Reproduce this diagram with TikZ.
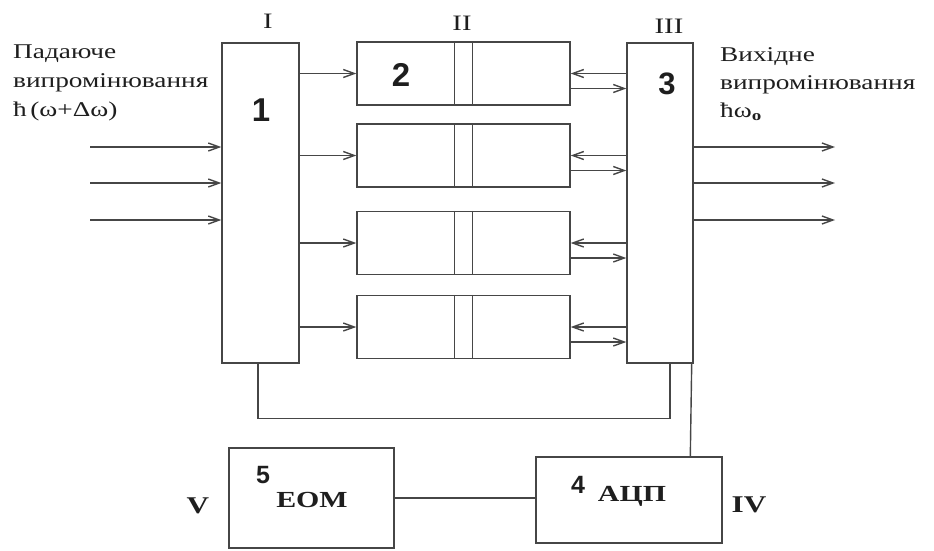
\documentclass[tikz,border=0pt]{standalone}
\usepackage{fontspec}
\setmainfont{Liberation Serif}[FakeStretch=1.3]
\newfontfamily\digitfont{Liberation Sans}
\usepackage{xcolor}
\usetikzlibrary{arrows.meta,calc,positioning}
\definecolor{inkgray}{RGB}{70,70,70}
\definecolor{textgray}{RGB}{30,30,30}

\tikzset{
  block/.style={draw=inkgray,line width=1.4pt,rectangle,inner sep=0pt},
  wire/.style={draw=inkgray,line width=1.4pt},
  arr/.style={wire,-{Straight Barb[length=11pt,width=8pt]}},
  bignum/.style={text=textgray,font=\digitfont\bfseries\fontsize{33}{33}\selectfont},
  smallnum/.style={text=textgray,font=\digitfont\bfseries\fontsize{25}{25}\selectfont},
  stage/.style={text=textgray,anchor=base,font=\fontsize{22}{22}\selectfont},
  caption/.style={text=textgray,anchor=north west,align=left,inner sep=0pt,
    font=\fontsize{21}{29}\selectfont}
}

\begin{document}
\begin{tikzpicture}[x=1pt,y=-1pt]
  % --- canvas ---
  \useasboundingbox (0,0) rectangle (934,550);

  % --- blocks I and III ---
  \node[block,minimum width=77pt,minimum height=320pt] (b1) at (260.5,203) {};
  \node[block,minimum width=66pt,minimum height=320pt] (b3) at (660,203) {};

  % --- block II: four cells with their links ---
  \foreach \i/\y in {1/73.5,2/155.5,3/243,4/327}{
    \node[block,minimum width=213pt,minimum height=63pt] (r\i) at (463.5,\y) {};
    \draw[wire] ($(r\i.north west)+(98,0)$) -- ($(r\i.south west)+(98,0)$);
    \draw[wire] ($(r\i.north west)+(116,0)$) -- ($(r\i.south west)+(116,0)$);
    \draw[arr] (b1.east |- r\i.west) -- (r\i.west);
    \draw[arr] (b3.west |- r\i.east) -- (r\i.east);
    \draw[arr] ($(r\i.east)+(0,15)$) -- ($(b3.west |- r\i.east)+(0,15)$);
  }

  % --- incoming and outgoing beams ---
  \foreach \y in {147,183,220}{
    \coordinate (src) at (90,\y);
    \coordinate (dst) at (835,\y);
    \draw[arr] (src) -- (src -| b1.west);
    \draw[arr] (b3.east |- dst) -- (dst);
  }

  % --- blocks IV and V ---
  \node[block,minimum width=186pt,minimum height=86pt] (b4) at (629,500) {};
  \node[block,minimum width=165pt,minimum height=100pt] (b5) at (311.5,498) {};

  % --- feedback wiring ---
  \draw[wire] ($(b1.south)+(-2.5,0)$) -- ++(0,55) -| ($(b3.south)+(10,0)$);
  \draw[wire] ($(b3.south east)+(-2,0)$) -- ($(b4.north west)+(155,0)$);
  \draw[wire] (b5.east) -- (b5.east -| b4.west);

  % --- numbers ---
  \node[bignum] at (261,110) {1};
  \node[bignum] at (401,75) {2};
  \node[bignum,font=\digitfont\bfseries\fontsize{31}{31}\selectfont] at (667,84) {3};
  \node[smallnum] at (578,485) {4};
  \node[smallnum] at (263,475) {5};
  \node[stage,font=\bfseries\fontsize{23}{23}\selectfont] at (632,501) {АЦП};
  \node[stage,font=\bfseries\fontsize{23}{23}\selectfont] at (312,507) {EOM};

  % --- stage marks ---
  \node[stage] at (268,28) {I};
  \node[stage] at (462,30) {II};
  \node[stage] at (669,33) {III};
  \node[stage,font=\bfseries\fontsize{24}{24}\selectfont] at (749,512) {IV};
  \node[stage,font=\bfseries\fontsize{24}{24}\selectfont] at (198,513) {V};

  % --- captions ---
  \node[caption] at (13,45) {Падаюче\\випромінювання\\ħ\,(ω+Δω)};
  \node[caption,font=\fontsize{21}{28}\selectfont] at (720,47)
    {Вихідне\\випромінювання\\ħω\textsubscript{\textbf{o}}};

\end{tikzpicture}
\end{document}
